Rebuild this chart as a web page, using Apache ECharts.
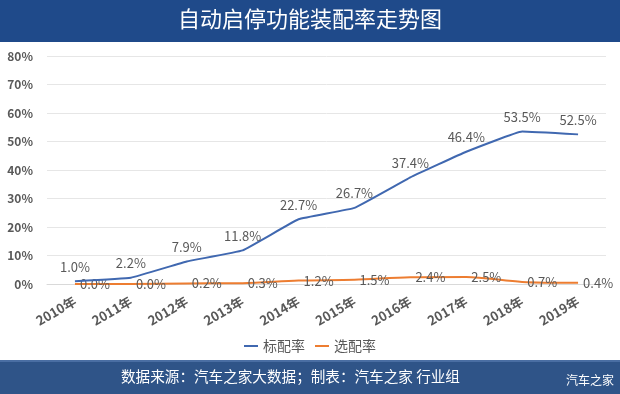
<!DOCTYPE html>
<html><head><meta charset="utf-8">
<script src="https://cdn.jsdelivr.net/npm/echarts@6/dist/echarts.min.js"></script>
<style>html,body{margin:0;padding:0;background:#fff}#c{width:620px;height:394px}</style>
</head><body><div id="c"></div>
<script>
var categories = ['2010年','2011年','2012年','2013年','2014年','2015年','2016年','2017年','2018年','2019年'];
var standardRate = [1.0, 2.2, 7.9, 11.8, 22.7, 26.7, 37.4, 46.4, 53.5, 52.5];
var optionalRate = [0.0, 0.0, 0.2, 0.3, 1.2, 1.5, 2.4, 2.5, 0.7, 0.4];
var seriesNames = ['标配率', '选配率'];
var titleText = '自动启停功能装配率走势图';
var footerText = '数据来源：汽车之家大数据；制表：汽车之家 行业组';
var logoText = '汽车之家';

var font = '"Microsoft YaHei","Noto Sans CJK SC","Noto Sans",sans-serif';
var chart = echarts.init(document.getElementById('c'), null, {renderer:'canvas'});
chart.setOption({
  animation: false,
  backgroundColor: '#fff',
  textStyle: {fontFamily: font},
  graphic: [
    {type:'rect', left:0, top:0, shape:{width:620, height:42}, style:{fill:'#1f4a8a'}, z:0},
    {type:'rect', left:0, top:360, shape:{width:620, height:34}, style:{fill:'#2f5488'}, z:0},
    {type:'rect', left:0, top:360, shape:{width:620, height:2}, style:{fill:'#4a6ea3'}, z:0},
    {type:'text', left:'center', top:8, style:{text:titleText, fill:'#fff', font:'22px ' + font}, z:2},
    {type:'text', left:121, top:369, style:{text:footerText, fill:'#fff', font:'14.6px ' + font}, z:2},
    {type:'text', right:6, top:374, style:{text:logoText, fill:'#fff', font:'12px ' + font}, z:2}
  ],
  legend: {
    bottom: 36, left: 'center',
    itemWidth: 14, itemHeight: 2, itemGap: 10,
    icon: 'rect',
    textStyle: {color:'#595959', fontSize:14, fontFamily:font},
    data: seriesNames
  },
  grid: {left: 47, right: 14, top: 56, bottom: 110, containLabel: false},
  xAxis: {
    type: 'category', data: categories, boundaryGap: true,
    axisLine: {show: true, lineStyle:{color:'#d9d9d9'}},
    axisTick: {show: false},
    axisLabel: {rotate: 30, color:'#595959', fontSize: 13, fontWeight:'bold', margin: 16, interval: 0, fontFamily:font}
  },
  yAxis: {
    type: 'value', min: 0, max: 80, interval: 10,
    axisLine: {show:false}, axisTick:{show:false},
    splitLine: {lineStyle:{color:'#e6e6e6'}},
    axisLabel: {formatter: '{value}%', color:'#595959', fontSize:12, fontWeight:'bold', margin: 14, fontFamily:font}
  },
  series: [
    {
      name: seriesNames[0], type: 'line', data: standardRate,
      smooth: 0.08, symbol: 'circle', symbolSize: 0.1, showSymbol: true,
      lineStyle: {color:'#4068b0', width: 2},
      itemStyle: {color:'#4068b0'},
      label: {show: true, position: 'top', distance: 8, color:'#595959', fontSize: 13,
        formatter: function(p){return p.value.toFixed(1)+'%';}},
      z: 3
    },
    {
      name: seriesNames[1], type: 'line', data: optionalRate,
      smooth: 0.3, symbol: 'circle', symbolSize: 0.1, showSymbol: true,
      lineStyle: {color:'#ed7d31', width: 2},
      itemStyle: {color:'#ed7d31'},
      label: {show: true, position: 'right', distance: 5, color:'#595959', fontSize: 13,
        formatter: function(p){return p.value.toFixed(1)+'%';}},
      z: 2
    }
  ]
});
</script></body></html>
